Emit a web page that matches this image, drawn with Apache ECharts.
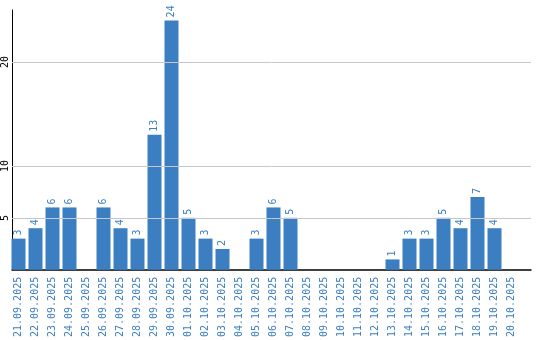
<!DOCTYPE html>
<html><head><meta charset="utf-8">
<script src="https://cdn.jsdelivr.net/npm/echarts@6/dist/echarts.min.js"></script>
<style>html,body{margin:0;padding:0;background:#fff}#c{width:540px;height:340px}</style>
</head><body><div id="c"></div>
<script>
const categories = ['21.09.2025','22.09.2025','23.09.2025','24.09.2025','25.09.2025','26.09.2025','27.09.2025','28.09.2025','29.09.2025','30.09.2025','01.10.2025','02.10.2025','03.10.2025','04.10.2025','05.10.2025','06.10.2025','07.10.2025','08.10.2025','09.10.2025','10.10.2025','11.10.2025','12.10.2025','13.10.2025','14.10.2025','15.10.2025','16.10.2025','17.10.2025','18.10.2025','19.10.2025','20.10.2025'];
const values = [3,4,6,6,0,6,4,3,13,24,5,3,2,0,3,6,5,0,0,0,0,0,1,3,3,5,4,7,4,0];
const yTickLabels = [5,10,20];
const gridLines = [5,10,20];

const BLUE = '#3b7ec2';
const FONT = 'DejaVu Sans Mono';
const chart = echarts.init(document.getElementById('c'), null, {renderer:'canvas'});
chart.setOption({
  animation:false,
  grid:[
    {left:10, top:10, width:521, height:260},
    {left:10, top:10, width:510, height:260}
  ],
  xAxis:[
    {gridIndex:0, type:'value', min:0, max:1, axisLine:{show:true,onZero:false,lineStyle:{color:'#000',width:1.5}}, axisTick:{show:false}, axisLabel:{show:false}, splitLine:{show:false}},
    {gridIndex:1, type:'category', data:categories, axisLine:{show:false}, axisTick:{show:false},
     axisLabel:{interval:0, rotate:90, color:BLUE, fontFamily:FONT, fontSize:10, margin:7}}
  ],
  yAxis:[
    {gridIndex:0, type:'value', min:0, max:25, interval:5,
     axisLine:{show:true,lineStyle:{color:'#000',width:1}}, axisTick:{show:false}, splitLine:{show:false},
     axisLabel:{rotate:90, align:'center', verticalAlign:'bottom', color:'#000', fontFamily:FONT, fontSize:10, margin:2,
       formatter:v=>yTickLabels.includes(v)?String(v):''}},
    {gridIndex:1, type:'value', min:0, max:25, show:false}
  ],
  series:[
    {type:'line', xAxisIndex:0, yAxisIndex:0, data:[], silent:true,
     markLine:{silent:true, symbol:'none', label:{show:false},
       lineStyle:{color:'#c8c8c8', type:'solid', width:1},
       data:gridLines.map(v=>({yAxis:v}))}},
    {type:'bar', xAxisIndex:1, yAxisIndex:1, data:values, barWidth:14, z:3,
     itemStyle:{color:BLUE},
     label:{show:true, position:'top', rotate:90, align:'left', verticalAlign:'middle', distance:3,
       color:BLUE, fontFamily:FONT, fontSize:10,
       formatter:p=>p.value?String(p.value):''}}
  ]
});
</script></body></html>
